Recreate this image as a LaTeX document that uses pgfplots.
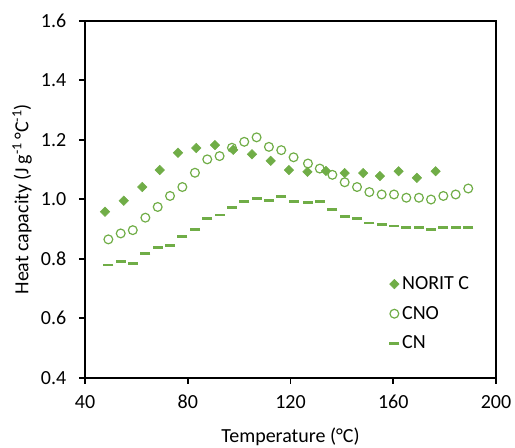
\documentclass[border=0pt]{standalone}
\usepackage{pgfplots}
\pgfplotsset{compat=1.18}
\usepackage{fontspec}
\setmainfont{Carlito}
\definecolor{xgreen}{RGB}{112,173,71}
\pgfplotstableread{
x y
47.8 0.958
55.1 0.995
62.3 1.041
69.1 1.098
76.2 1.156
83.3 1.172
90.6 1.182
97.7 1.166
105.0 1.151
112.3 1.129
119.4 1.098
126.6 1.092
133.8 1.095
141.1 1.088
148.3 1.088
154.8 1.078
162.1 1.094
169.2 1.072
176.5 1.094
}\norit
\pgfplotstableread{
x y
49.1 0.865
53.9 0.885
58.6 0.896
63.5 0.938
68.3 0.974
73.1 1.011
77.9 1.041
82.8 1.089
87.6 1.134
92.4 1.145
97.2 1.173
102.0 1.193
106.8 1.208
111.6 1.176
116.4 1.165
121.2 1.141
126.8 1.120
131.4 1.103
136.3 1.082
141.1 1.057
145.9 1.041
150.7 1.024
155.5 1.016
160.3 1.016
165.1 1.005
170.0 1.005
174.7 0.999
179.5 1.011
184.3 1.016
189.2 1.036
}\cno
\pgfplotstableread{
x y
49.1 0.779
53.9 0.790
58.6 0.784
63.5 0.816
68.3 0.837
73.1 0.843
77.9 0.874
82.8 0.899
87.6 0.936
92.4 0.947
97.2 0.971
102.0 0.993
106.8 1.003
111.6 0.997
116.4 1.008
121.2 0.993
126.8 0.988
131.4 0.993
136.3 0.967
141.1 0.941
145.9 0.936
150.7 0.920
155.5 0.914
160.3 0.910
165.1 0.904
170.0 0.904
174.7 0.899
179.5 0.904
184.3 0.904
189.2 0.904
}\cn
\begin{document}
\begin{tikzpicture}
\path[use as bounding box] (-63.75pt,-52.7pt) rectangle (322.5pt,283.3pt);
\begin{axis}[
  at={(0,0)}, anchor=south west,
  scale only axis, width=308.25pt, height=267.75pt,
  xmin=40, xmax=200, ymin=0.4, ymax=1.6,
  xtick={40,80,120,160,200},
  ytick={0.4,0.6,0.8,1.0,1.2,1.4,1.6},
  yticklabel style={/pgf/number format/fixed, /pgf/number format/fixed zerofill, /pgf/number format/precision=1, xshift=-6pt},
  /pgf/number format/assume math mode=true,
  tick align=outside, tick pos=left, major tick length=4.5pt,
  axis line style={line width=1.2pt},
  tick style={line width=1.2pt, black},
  tick label style={font=\fontsize{15}{17}\selectfont},
  xticklabel style={yshift=-5pt},
  label style={font=\fontsize{15}{17}\selectfont},
  xlabel={Temperature (°C)},
  ylabel={Heat capacity (J\,g\textsuperscript{-1}\,°C\textsuperscript{-1})},
  xlabel style={at={(axis description cs:0.5,-0.1662)}, anchor=center},
  ylabel style={at={(axis description cs:-0.1533,0.5)}, anchor=center},
  legend style={draw=none, fill=none, font=\fontsize{15}{17}\selectfont,
    at={(axis description cs:0.73,0.299)}, anchor=north west, row sep=7pt},
  legend cell align=left,
]
\addplot[only marks, mark=square*, mark size=2.5pt, mark options={rotate=45, fill=xgreen, draw=xgreen}, color=xgreen] table[x=x,y=y] {\norit};
\addlegendentry{NORIT C}
\addplot[only marks, mark=o, mark size=3.3pt, mark options={line width=0.9pt, draw=xgreen}, color=xgreen] table[x=x,y=y] {\cno};
\addlegendentry{CNO}
\addplot[only marks, mark=-, mark size=3.8pt, mark options={line width=2.2pt, draw=xgreen}, color=xgreen] table[x=x,y=y] {\cn};
\addlegendentry{CN}
\end{axis}
\end{tikzpicture}
\end{document}
